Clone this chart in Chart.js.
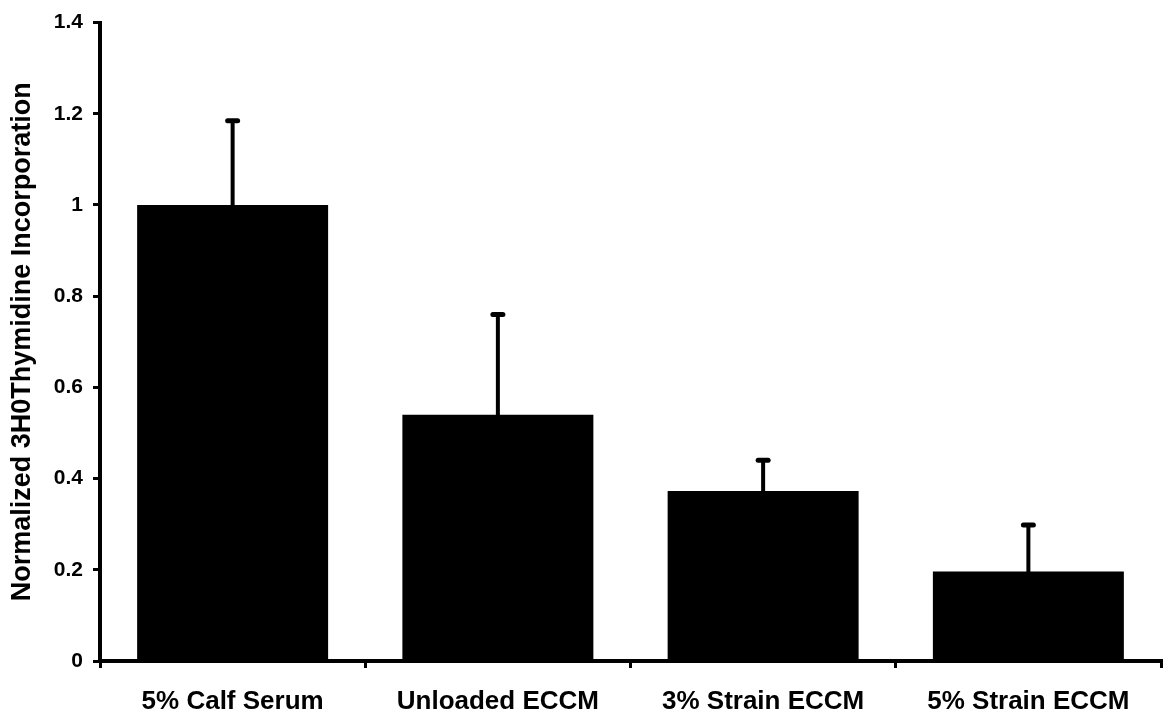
<!DOCTYPE html>
<html>
<head>
<meta charset="utf-8">
<script src="https://cdn.jsdelivr.net/npm/chart.js@4.4.0/dist/chart.umd.min.js"></script>
<style>
  html, body { margin: 0; padding: 0; background: #fff; }
  #wrap { width: 1165px; height: 717px; }
</style>
</head>
<body>
<div id="wrap"><canvas id="chart"></canvas></div>
<script>
const categories = ["5% Calf Serum", "Unloaded ECCM", "3% Strain ECCM", "5% Strain ECCM"];
const means = [1.0, 0.54, 0.373, 0.196];
const upperErr = [1.185, 0.76, 0.44, 0.298];
const yTicks = [0, 0.2, 0.4, 0.6, 0.8, 1, 1.2, 1.4];

const FONT = "'Liberation Sans', Arial, sans-serif";

// simple upward error bars drawn through the scales
const errorBars = {
  id: "errorBars",
  afterDatasetsDraw(chart) {
    const ctx = chart.ctx;
    const x = chart.scales.x, y = chart.scales.y;
    ctx.save();
    ctx.strokeStyle = "#000";
    ctx.lineCap = "round";
    upperErr.forEach((v, i) => {
      const px = x.getPixelForValue(i);
      const yTop = y.getPixelForValue(v);
      const yBase = y.getPixelForValue(means[i]);
      ctx.lineWidth = 4;
      ctx.beginPath();
      ctx.moveTo(px, yBase);
      ctx.lineTo(px, yTop);
      ctx.stroke();
      ctx.lineWidth = 5;
      ctx.beginPath();
      ctx.moveTo(px - 5, yTop);
      ctx.lineTo(px + 5, yTop);
      ctx.stroke();
    });
    ctx.restore();
  }
};

new Chart(document.getElementById("chart"), {
  type: "bar",
  data: {
    labels: categories,
    datasets: [{
      data: means,
      backgroundColor: "#000",
      borderWidth: 0,
      barPercentage: 0.72,
      categoryPercentage: 1.0
    }]
  },
  options: {
    responsive: true,
    maintainAspectRatio: false,
    animation: false,
    layout: { padding: { top: 0, right: 4, left: 6, bottom: 4 } },
    plugins: { legend: { display: false }, tooltip: { enabled: false } },
    scales: {
      x: {
        afterFit(scale) { scale.height = 52; },
        grid: { display: true, drawOnChartArea: false, offset: true, color: "#000", lineWidth: 3, tickLength: 7 },
        border: { display: true, color: "#000", width: 4 },
        ticks: { color: "#000", font: { family: FONT, weight: "bold", size: 26 }, padding: 18, maxRotation: 0 }
      },
      y: {
        min: 0,
        max: 1.4,
        afterBuildTicks(scale) { scale.ticks = yTicks.map(v => ({ value: v })); },
        afterFit(scale) { scale.width = 94; },
        grid: { display: true, drawOnChartArea: false, color: "#000", lineWidth: 3, tickLength: 7 },
        border: { display: true, color: "#000", width: 4 },
        ticks: {
          color: "#000",
          font: { family: FONT, weight: "bold", size: 21 },
          padding: 10,
          callback: v => String(v)
        },
        title: {
          display: true,
          text: "Normalized 3H0Thymidine Incorporation",
          color: "#000",
          font: { family: FONT, weight: "bold", size: 27 },
          padding: { top: 0, bottom: 4 }
        }
      }
    }
  },
  plugins: [errorBars]
});
</script>
</body>
</html>
